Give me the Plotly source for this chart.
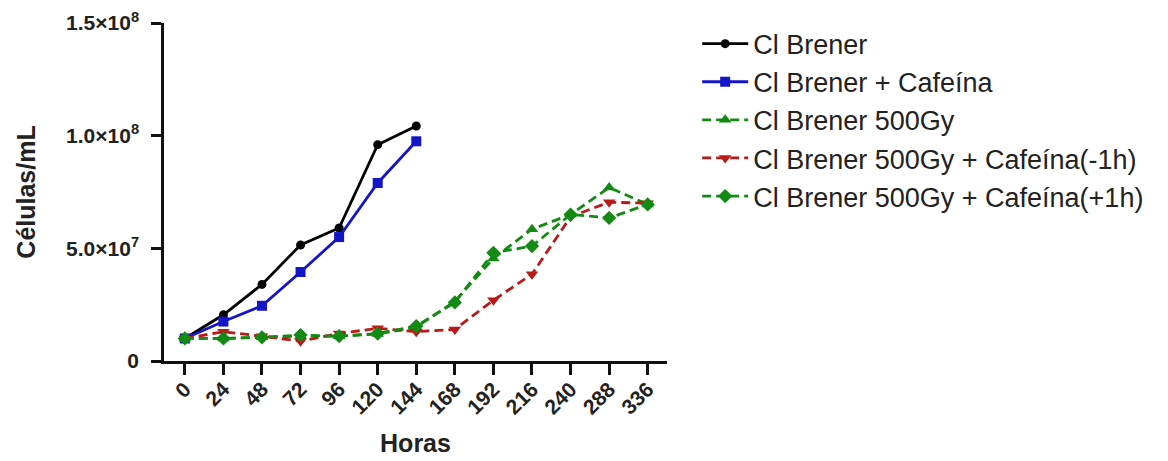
import plotly.graph_objects as go

# Sampling times (hours), shown as evenly spaced categories
horas = ["0", "24", "48", "72", "96", "120", "144", "168", "192", "216", "240", "288", "336"]

# Cell density (cells/mL) per condition
cl_brener = [1.0e7, 2.05e7, 3.4e7, 5.15e7, 5.9e7, 9.6e7, 1.043e8]
cl_brener_cafeina = [1.0e7, 1.75e7, 2.45e7, 3.95e7, 5.5e7, 7.9e7, 9.75e7]
cl_500gy = [1.0e7, 1.0e7, 1.05e7, 1.1e7, 1.1e7, 1.2e7, 1.5e7, 2.65e7, 4.55e7, 5.85e7, 6.5e7, 7.7e7, 6.95e7]
cl_500gy_caf_menos = [1.0e7, 1.3e7, 1.1e7, 0.88e7, 1.22e7, 1.45e7, 1.3e7, 1.4e7, 2.7e7, 3.85e7, 6.4e7, 7.05e7, 7.0e7]
cl_500gy_caf_mais = [1.0e7, 1.0e7, 1.05e7, 1.15e7, 1.1e7, 1.22e7, 1.55e7, 2.6e7, 4.8e7, 5.1e7, 6.5e7, 6.35e7, 6.95e7]

y_tickvals = [0, 5e7, 1e8, 1.5e8]
y_ticktext = ["0", "5.0×10<sup>7</sup>", "1.0×10<sup>8</sup>", "1.5×10<sup>8</sup>"]

FONT = "Liberation Sans, Arial, sans-serif"
TEXT = "#222222"
AXIS = "#111111"
BLACK = "#000000"
BLUE = "#1414c8"
GREEN = "#138a13"
RED = "#b81a1a"

series = [
    ("Cl Brener", cl_brener, BLACK, "circle", "solid", 9),
    ("Cl Brener + Cafeína", cl_brener_cafeina, BLUE, "square", "solid", 10),
    ("Cl Brener 500Gy", cl_500gy, GREEN, "triangle-up", "9px,5px", 11),
    ("Cl Brener 500Gy + Cafeína(-1h)", cl_500gy_caf_menos, RED, "triangle-down", "9px,5px", 11),
    ("Cl Brener 500Gy + Cafeína(+1h)", cl_500gy_caf_mais, GREEN, "diamond", "9px,5px", 11),
]

fig = go.Figure()
for name, vals, color, symbol, dash, size in series:
    fig.add_trace(go.Scatter(
        x=horas[:len(vals)],
        y=vals,
        name=name,
        mode="lines+markers",
        line=dict(color=color, width=2.8, dash=dash),
        marker=dict(color=color, symbol=symbol, size=size),
    ))

fig.update_layout(
    width=1168,
    height=461,
    margin=dict(l=164, r=501, t=23, b=100),
    paper_bgcolor="white",
    plot_bgcolor="white",
    font=dict(family=FONT, color=TEXT),
    showlegend=True,
    legend=dict(
        x=1.06, y=1.01, xanchor="left", yanchor="top",
        font=dict(family=FONT, size=27, color=TEXT),
        itemwidth=46,
        tracegroupgap=0,
        bgcolor="rgba(0,0,0,0)",
    ),
    xaxis=dict(
        type="category",
        categoryorder="array",
        categoryarray=horas,
        range=[-0.54, 12.5],
        automargin=False,
        showline=True, linecolor=AXIS, linewidth=2.5,
        ticks="outside", ticklen=11, tickwidth=2.5, tickcolor=AXIS,
        tickangle=-45,
        ticklabelstandoff=-6,
        tickfont=dict(family=FONT, size=21, color=TEXT, weight="bold"),
        showgrid=False, zeroline=False,
        title=dict(text="Horas", font=dict(family=FONT, size=25, color=TEXT, weight="bold"), standoff=18),
    ),
    yaxis=dict(
        range=[0, 1.5e8],
        tickvals=y_tickvals,
        ticktext=y_ticktext,
        automargin=False,
        showline=True, linecolor=AXIS, linewidth=2.5,
        ticks="outside", ticklen=10, tickwidth=2.5, tickcolor=AXIS,
        ticklabelstandoff=8,
        tickfont=dict(family=FONT, size=21, color=TEXT, weight="bold"),
        showgrid=False, zeroline=False,
        title=dict(text="Células/mL", font=dict(family=FONT, size=25, color=TEXT, weight="bold"), standoff=24),
    ),
)

fig.write_html("out.html")
